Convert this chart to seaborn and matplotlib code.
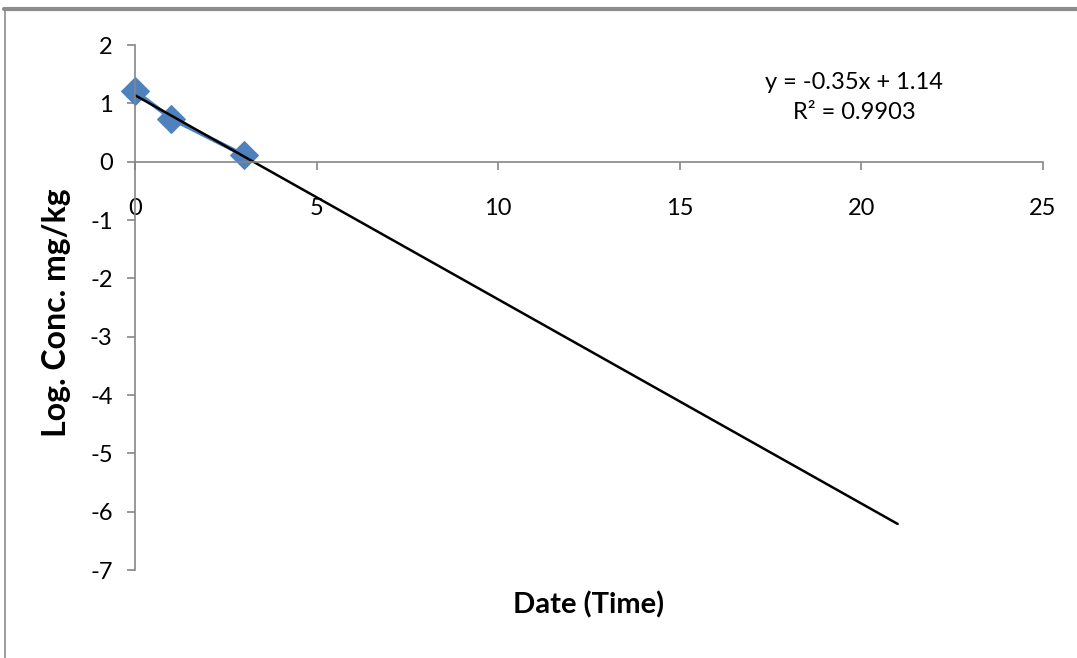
import numpy as np
import pandas as pd
import matplotlib.pyplot as plt
import seaborn as sns
from matplotlib.lines import Line2D

# datos
dias = [0, 1, 3]
log_conc = [1.21, 0.74, 0.11]

# linea de tendencia (ecuacion del grafico)
pendiente = -0.35
ordenada = 1.14
x_tend = [0, 21]

x_ticks = [0, 5, 10, 15, 20, 25]
y_ticks = [-7, -6, -5, -4, -3, -2, -1, 0, 1, 2]

sns.set_style('white')
plt.rcParams['font.family'] = ['Lato', 'DejaVu Sans']
plt.rcParams['axes.unicode_minus'] = False
plt.rcParams['text.color'] = 'black'
plt.rcParams['axes.labelcolor'] = 'black'
plt.rcParams['xtick.color'] = 'black'
plt.rcParams['ytick.color'] = 'black'

df = pd.DataFrame({'dia': dias, 'log': log_conc})
tend = pd.DataFrame({'x': x_tend, 'y': [pendiente * x + ordenada for x in x_tend]})

fig = plt.figure(figsize=(10.77, 6.58), dpi=100)
ax = fig.add_axes([0.1253, 0.1337, 0.8431, 0.7979])

sns.lineplot(data=df, x='dia', y='log', ax=ax, color='#4F81BD', linewidth=3,
             marker='D', markersize=14, markeredgecolor='#4F81BD', clip_on=False)
sns.lineplot(data=tend, x='x', y='y', ax=ax, color='black', linewidth=1.8)

ax.set_xlim(0, 25)
ax.set_ylim(-7, 2)
ax.set_xticks(x_ticks)
ax.set_yticks(y_ticks)

gris = '#868686'
for s in ['top', 'right']:
    ax.spines[s].set_visible(False)
ax.spines['bottom'].set_position(('data', 0))
ax.spines['bottom'].set_color(gris)
ax.spines['left'].set_color(gris)
ax.spines['bottom'].set_linewidth(1.2)
ax.spines['left'].set_linewidth(1.2)

ax.tick_params(axis='x', direction='out', length=6, width=1.2, color=gris,
               labelcolor='black', pad=20, labelsize=17)
ax.tick_params(axis='y', direction='out', length=6, width=1.2, color=gris,
               labelcolor='black', pad=10, labelsize=17)
ax.xaxis.set_ticks_position('bottom')
ax.yaxis.set_ticks_position('left')

ax.set_xlabel('Date (Time)', fontsize=21, fontweight='bold')
ax.set_ylabel('Log. Conc. mg/kg', fontsize=23, fontweight='bold')
ax.xaxis.set_label_coords(0.5, -0.04)
ax.yaxis.set_label_coords(-0.07, 0.49)

ax.text(19.8, 1.35, 'y = -0.35x + 1.14', ha='center', va='center', fontsize=17)
ax.text(19.8, 0.84, 'R² = 0.9903', ha='center', va='center', fontsize=17)

# borde del cuadro como en excel
fig.add_artist(Line2D([0.004, 1], [0.986, 0.986], color='#8c8c8c', linewidth=3))
fig.add_artist(Line2D([0.005, 0.005], [0, 0.986], color='#8c8c8c', linewidth=1.2))

plt.savefig('out.png', dpi=100)
plt.close()
